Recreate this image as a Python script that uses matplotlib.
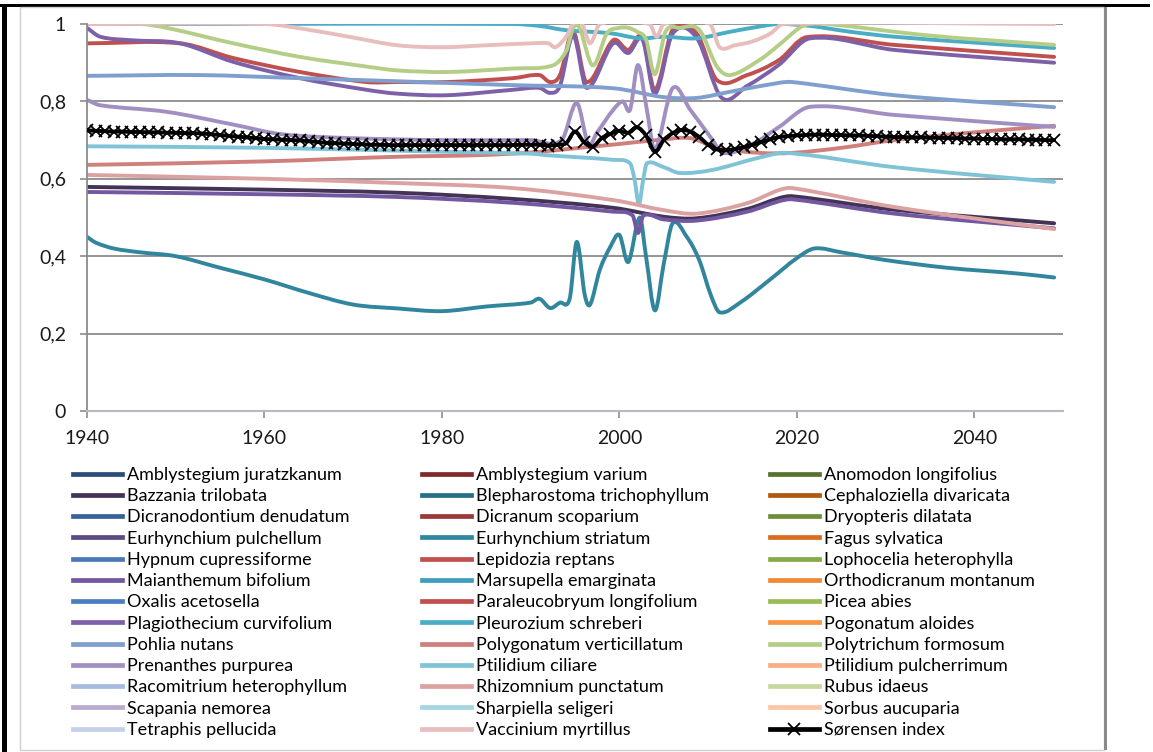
import matplotlib
matplotlib.use("Agg")
import matplotlib.pyplot as plt
from matplotlib.lines import Line2D
from matplotlib.patches import Rectangle, PathPatch
from matplotlib.path import Path
import numpy as np

# ---------------- data ----------------
species = [
    "Amblystegium juratzkanum", "Amblystegium varium", "Anomodon longifolius",
    "Bazzania trilobata", "Blepharostoma trichophyllum", "Cephaloziella divaricata",
    "Dicranodontium denudatum", "Dicranum scoparium", "Dryopteris dilatata",
    "Eurhynchium pulchellum", "Eurhynchium striatum", "Fagus sylvatica",
    "Hypnum cupressiforme", "Lepidozia reptans", "Lophocelia heterophylla",
    "Maianthemum bifolium", "Marsupella emarginata", "Orthodicranum montanum",
    "Oxalis acetosella", "Paraleucobryum longifolium", "Picea abies",
    "Plagiothecium curvifolium", "Pleurozium schreberi", "Pogonatum aloides",
    "Pohlia nutans", "Polygonatum verticillatum", "Polytrichum formosum",
    "Prenanthes purpurea", "Ptilidium ciliare", "Ptilidium pulcherrimum",
    "Racomitrium heterophyllum", "Rhizomnium punctatum", "Rubus idaeus",
    "Scapania nemorea", "Sharpiella seligeri", "Sorbus aucuparia",
    "Tetraphis pellucida", "Vaccinium myrtillus",
]

# shades per colour family, darkest first
blues   = ["#2B4C78", "#37629A", "#4A79B8", "#4D7EC2", "#7F9FCF", "#A7BBDF", "#C5D1E9"]
reds    = ["#7E2B29", "#9D3835", "#C0504D", "#C0504D", "#CF7F7C", "#DCA2A1", "#E7BEBD"]
greens  = ["#56722D", "#6F8E37", "#86AA45", "#9BBB59", "#B5CE87", "#C5D99F"]
purples = ["#433457", "#5E4A85", "#7357A0", "#7D60A8", "#A28FC1", "#B9ABCF"]
aquas   = ["#276F83", "#31859C", "#3E9FBA", "#4BACC6", "#80C3D6", "#A6D5E3"]
oranges = ["#B0590E", "#D96C1E", "#EE8A34", "#F79646", "#F9AE84", "#FBC6A5"]

# Vaccinium myrtillus
vac_x = [1940, 1960, 1965, 1970, 1975, 1980, 1985, 1990, 1992, 1992.8, 1994, 1994.8, 1995.8,
         1996.7, 1997.8, 2003.4, 2004.2, 2005, 2010.2, 2011.3, 2013, 2015, 2017, 2018.5, 2049]
vac_y = [1, 1, 0.985, 0.965, 0.945, 0.94, 0.945, 0.95, 0.95, 0.94, 0.967, 1, 1,
         0.95, 1, 1, 0.967, 1, 1, 0.94, 0.945, 0.955, 0.975, 1, 1]

# Pleurozium schreberi
ple_x = [1940, 1988, 1991, 1994, 1999, 2002.3, 2005, 2008.7, 2012.5, 2016.2, 2018, 2021.5,
         2026, 2031, 2040, 2049]
ple_y = [1, 1, 0.995, 0.984, 0.976, 0.963, 0.967, 0.963, 0.98, 0.995, 1, 0.995,
         0.98, 0.967, 0.952, 0.938]

# Polytrichum formosum
pol_x = [1940, 1946, 1949, 1956.5, 1964, 1971.5, 1975, 1980.6, 1988, 1992.5, 1994, 1994.8,
         1995.5, 1997, 1998.6, 2000, 2001, 2002, 2003, 2004, 2005.2, 2006.8, 2009, 2011,
         2012.5, 2015.8, 2018, 2020.3, 2021.5, 2023.5, 2035, 2049]
pol_y = [1, 1, 0.99, 0.95, 0.915, 0.89, 0.88, 0.876, 0.885, 0.893, 0.93, 0.99,
         0.99, 0.893, 0.976, 0.99, 0.99, 0.98, 0.96, 0.87, 0.98, 0.99, 0.985, 0.89,
         0.868, 0.907, 0.946, 0.99, 1, 1, 0.97, 0.946]

# Paraleucobryum longifolium
par_x = [1940, 1950.5, 1956.5, 1964, 1971.5, 1975, 1980.6, 1988, 1991, 1992.2, 1993.3,
         1994.8, 1996.3, 1999.3, 2001, 2002.6, 2004, 2006, 2008.7, 2011, 2014.4, 2018,
         2021.1, 2031, 2049]
par_y = [0.95, 0.95, 0.912, 0.876, 0.85, 0.85, 0.85, 0.86, 0.868, 0.85, 0.868,
         0.98, 0.85, 0.958, 0.933, 0.967, 0.83, 0.985, 0.976, 0.855, 0.868, 0.907,
         0.966, 0.946, 0.915]

# Plagiothecium curvifolium
pla_x = [1940, 1941.5, 1945, 1950.5, 1956.5, 1964, 1971.5, 1975, 1980.6, 1988, 1991,
         1992.2, 1993.3, 1994.8, 1996.3, 1999.3, 2001, 2002.6, 2004, 2006, 2008.7,
         2011.5, 2014.4, 2018, 2021.5, 2031, 2049]
pla_y = [0.99, 0.967, 0.958, 0.95, 0.902, 0.86, 0.83, 0.82, 0.816, 0.83, 0.835,
         0.822, 0.84, 0.97, 0.835, 0.95, 0.925, 0.96, 0.82, 0.975, 0.965,
         0.81, 0.84, 0.895, 0.963, 0.933, 0.9]

# Pohlia nutans
poh_x = [1940, 1952.7, 1964, 1975, 1988, 1999.3, 2005, 2008.7, 2012.5, 2018, 2019.5, 2031, 2049]
poh_y = [0.866, 0.868, 0.86, 0.852, 0.842, 0.834, 0.811, 0.809, 0.825, 0.848, 0.85, 0.816, 0.785]

# Prenanthes purpurea
pre_x = [1940, 1941.5, 1949, 1956.5, 1962, 1970, 1980, 1990, 1993.5, 1995.2, 1996.5,
         1997.5, 1999.3, 2000.4, 2001.2, 2002.1, 2003.1, 2004, 2006, 2008, 2010.2,
         2011.7, 2015, 2018, 2021.5, 2031, 2049]
pre_y = [0.804, 0.79, 0.773, 0.74, 0.715, 0.705, 0.70, 0.70, 0.70, 0.796, 0.69,
         0.72, 0.778, 0.80, 0.778, 0.894, 0.778, 0.675, 0.834, 0.778, 0.71,
         0.667, 0.69, 0.734, 0.786, 0.765, 0.734]

# Polygonatum verticillatum
pvt_x = [1940, 1960, 1975, 1984, 1990, 1995.5, 2000, 2004.2, 2008, 2011, 2015.8, 2019.5,
         2025, 2031, 2040, 2049]
pvt_y = [0.636, 0.645, 0.657, 0.661, 0.668, 0.68, 0.69, 0.70, 0.705, 0.68, 0.667, 0.667,
         0.68, 0.70, 0.72, 0.737]

# Ptilidium ciliare
ptc_x = [1940, 1960, 1980, 1990, 1991.8, 1999.3, 2001.2, 2001.7, 2002.2, 2002.7, 2003.1,
         2005, 2006.8, 2010.5, 2015.8, 2018.8, 2031, 2049]
ptc_y = [0.684, 0.68, 0.67, 0.665, 0.661, 0.649, 0.64, 0.60, 0.535, 0.60, 0.64,
         0.63, 0.615, 0.623, 0.655, 0.667, 0.63, 0.592]

# Rhizomnium punctatum
rhi_x = [1940, 1960, 1975, 1988, 1999.3, 2005, 2008.7, 2014.4, 2018, 2019.5, 2031, 2049]
rhi_y = [0.61, 0.60, 0.589, 0.576, 0.545, 0.519, 0.51, 0.537, 0.571, 0.576, 0.527, 0.47]

# Bazzania trilobata
baz_x = [1940, 1960, 1975, 1988, 1999.3, 2005, 2008.7, 2014.4, 2018, 2019.5, 2031, 2049]
baz_y = [0.579, 0.572, 0.564, 0.548, 0.525, 0.502, 0.498, 0.522, 0.55, 0.555, 0.52, 0.485]

# Maianthemum bifolium
mai_x = [1940, 1960, 1975, 1988, 1999.3, 2001.5, 2002.1, 2002.7, 2005, 2008.7, 2014.4,
         2018, 2019.5, 2031, 2049]
mai_y = [0.566, 0.56, 0.553, 0.538, 0.515, 0.505, 0.46, 0.505, 0.495, 0.492, 0.515,
         0.542, 0.547, 0.51, 0.472]

# Eurhynchium striatum
eur_x = [1940, 1941, 1943, 1946, 1950, 1955, 1960, 1965, 1970, 1975, 1980, 1985, 1990,
         1991, 1992.2, 1993.3, 1994.4, 1995.2, 1996.1, 1996.7, 1997.8, 1999, 2000, 2001,
         2002.3, 2003, 2004, 2005, 2006, 2007.6, 2009, 2010.3, 2011.3, 2013.6, 2017,
         2020, 2022, 2025, 2030, 2037, 2045, 2049]
eur_y = [0.45, 0.435, 0.42, 0.41, 0.40, 0.37, 0.34, 0.305, 0.275, 0.265, 0.258, 0.27, 0.28,
         0.29, 0.266, 0.28, 0.29, 0.437, 0.30, 0.275, 0.365, 0.425, 0.455, 0.385,
         0.50, 0.40, 0.26, 0.38, 0.485, 0.45, 0.39, 0.30, 0.255, 0.28, 0.34,
         0.395, 0.42, 0.41, 0.39, 0.37, 0.355, 0.345]

# Sørensen index, one value per year 1940-2049
sor_years = list(range(1940, 2050))
sor_vals = [
    0.725, 0.724, 0.723, 0.722, 0.722, 0.721, 0.721, 0.720, 0.720, 0.719,
    0.719, 0.718, 0.718, 0.717, 0.715, 0.713, 0.711, 0.709, 0.707, 0.705,
    0.703, 0.702, 0.701, 0.700, 0.699, 0.697, 0.695, 0.693, 0.692, 0.691,
    0.690, 0.689, 0.688, 0.688, 0.687, 0.687, 0.687, 0.687, 0.687, 0.687,
    0.687, 0.687, 0.687, 0.687, 0.687, 0.687, 0.687, 0.687, 0.687, 0.688,
    0.688, 0.688, 0.686, 0.688, 0.692, 0.722, 0.695, 0.683, 0.705, 0.716,
    0.724, 0.719, 0.733, 0.712, 0.670, 0.700, 0.718, 0.726, 0.722, 0.708,
    0.688, 0.676, 0.674, 0.677, 0.682, 0.688, 0.695, 0.702, 0.708, 0.710,
    0.712, 0.713, 0.714, 0.714, 0.713, 0.713, 0.712, 0.712, 0.711, 0.710,
    0.709, 0.708, 0.708, 0.707, 0.707, 0.706, 0.706, 0.705, 0.705, 0.704,
    0.704, 0.703, 0.703, 0.702, 0.702, 0.702, 0.701, 0.701, 0.700, 0.700,
]

series_data = {
    "Vaccinium myrtillus": (vac_x, vac_y),
    "Pleurozium schreberi": (ple_x, ple_y),
    "Polytrichum formosum": (pol_x, pol_y),
    "Paraleucobryum longifolium": (par_x, par_y),
    "Plagiothecium curvifolium": (pla_x, pla_y),
    "Pohlia nutans": (poh_x, poh_y),
    "Prenanthes purpurea": (pre_x, pre_y),
    "Polygonatum verticillatum": (pvt_x, pvt_y),
    "Ptilidium ciliare": (ptc_x, ptc_y),
    "Rhizomnium punctatum": (rhi_x, rhi_y),
    "Bazzania trilobata": (baz_x, baz_y),
    "Maianthemum bifolium": (mai_x, mai_y),
    "Eurhynchium striatum": (eur_x, eur_y),
}

x_ticks = [1940, 1960, 1980, 2000, 2020, 2040]
y_ticks = [0, 0.2, 0.4, 0.6, 0.8, 1.0]
y_tick_labels = ["0", "0,2", "0,4", "0,6", "0,8", "1"]


def smooth_path(xs, ys):
    """Smoothed line through the given points (cubic Bezier segments)."""
    xs = np.asarray(xs, float)
    ys = np.asarray(ys, float)
    n = len(xs)
    m = np.empty(n)
    m[0] = (ys[1] - ys[0]) / (xs[1] - xs[0])
    m[-1] = (ys[-1] - ys[-2]) / (xs[-1] - xs[-2])
    m[1:-1] = (ys[2:] - ys[:-2]) / (xs[2:] - xs[:-2])
    verts = [(xs[0], ys[0])]
    codes = [Path.MOVETO]
    for i in range(n - 1):
        h = xs[i + 1] - xs[i]
        verts += [(xs[i] + h / 3, ys[i] + m[i] * h / 3),
                  (xs[i + 1] - h / 3, ys[i + 1] - m[i + 1] * h / 3),
                  (xs[i + 1], ys[i + 1])]
        codes += [Path.CURVE4] * 3
    return Path(verts, codes)


# ---------------- figure ----------------
W, H = 1153, 752
fig = plt.figure(figsize=(W / 100, H / 100), dpi=100)
fig.patch.set_facecolor("white")


def fx(px):
    return px / W


def fy(py):
    return 1 - py / H


# outer frame: black left and top rules, grey chart-area border
fig.patches.append(Rectangle((fx(2), 0), fx(5), fy(4), transform=fig.transFigure,
                             facecolor="black", edgecolor="none", zorder=0))
fig.patches.append(Rectangle((0, fy(7)), fx(1150), 3 / H, transform=fig.transFigure,
                             facecolor="black", edgecolor="none", zorder=0))
fig.patches.append(Rectangle((fx(20), fy(750)), fx(1104 - 20), (750 - 7) / H,
                             transform=fig.transFigure, facecolor="none",
                             edgecolor="#D0D0D0", lw=1.0, zorder=0))
fig.patches.append(Rectangle((fx(1104), fy(750)), fx(3), (750 - 7) / H,
                             transform=fig.transFigure, facecolor="#8A8A8A",
                             edgecolor="none", zorder=0))

ax = fig.add_axes([fx(87), fy(411), fx(1063 - 87), (411 - 24) / H])
ax.set_xlim(1940, 2050)
ax.set_ylim(0, 1)
ax.set_axisbelow(True)
ax.yaxis.grid(True, color="#8C8C8C", lw=1.3)
ax.set_yticks(y_ticks)
ax.set_yticklabels(y_tick_labels)
ax.set_xticks(x_ticks)
ax.set_xticklabels([str(t) for t in x_ticks])
for side in ("top", "right"):
    ax.spines[side].set_visible(False)
ax.spines["left"].set_color("#8C8C8C")
ax.spines["bottom"].set_color("#B4B9C4")
ax.spines["left"].set_linewidth(1.3)
ax.spines["bottom"].set_linewidth(1.5)
ax.tick_params(axis="y", length=5, width=1.2, color="#8C8C8C", pad=10,
               labelsize=14, labelcolor="#1A1A1A")
ax.tick_params(axis="x", length=5, width=1.2, color="#8C8C8C", pad=9,
               labelsize=14, labelcolor="#1A1A1A")
for lab in ax.get_xticklabels() + ax.get_yticklabels():
    lab.set_fontfamily("Lato")

families = [blues, reds, greens, purples, aquas, oranges]
handles = []
for i, name in enumerate(species):
    fam = families[i % 6]
    color = fam[min(i // 6, len(fam) - 1)]
    if name in series_data:
        xs, ys = series_data[name]
        ax.add_patch(PathPatch(smooth_path(xs, ys), facecolor="none", edgecolor=color,
                               lw=2.8, capstyle="round", joinstyle="round",
                               zorder=2 + i * 0.01, label=name))
    handles.append(Line2D([], [], color=color, lw=3.4))

ax.add_patch(PathPatch(smooth_path(sor_years, sor_vals), facecolor="none",
                       edgecolor="black", lw=2.8, capstyle="round",
                       joinstyle="round", zorder=3))
ax.plot(sor_years, sor_vals, linestyle="none", marker="x", color="black",
        markersize=8.5, markeredgewidth=1.3, zorder=3.1, label="Sørensen index")
handles.append(Line2D([], [], color="black", lw=3.4, marker="x",
                      markersize=8.5, markeredgewidth=1.3))
labels = species + ["Sørensen index"]

# legend: three columns, ordered across rows
col_x = [73, 422, 770]
for c in range(3):
    idx = list(range(c, len(labels), 3))
    fig.legend([handles[k] for k in idx], [labels[k] for k in idx],
               loc="upper left", bbox_to_anchor=(fx(col_x[c]), fy(467)),
               frameon=False, borderpad=0, borderaxespad=0, handlelength=2.7,
               handletextpad=0.3, labelspacing=0.29,
               prop={"family": "Lato", "size": 13})

fig.savefig("out.png", dpi=100)
